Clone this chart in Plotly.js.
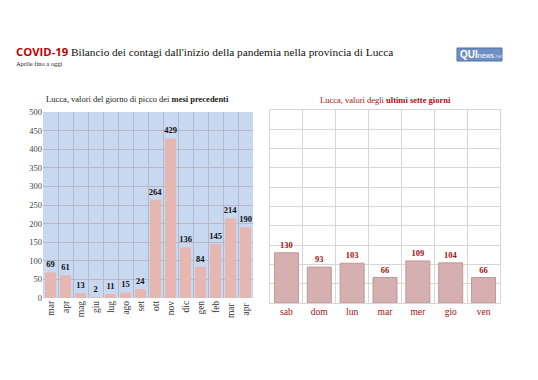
<!DOCTYPE html>
<html><head><meta charset="utf-8">
<script src="https://cdn.plot.ly/plotly-3.0.1.min.js"></script>
<style>html,body{margin:0;padding:0;background:#fff}#c{width:538px;height:380px}</style>
</head><body><div id="c"></div>
<script>
const months = ["mar","apr","mag","giu","lug","ago","set","ott","nov","dic","gen","feb","mar ","apr "];
const monthPeaks = [69,61,13,2,11,15,24,264,429,136,84,145,214,190];
const days = ["sab","dom","lun","mar","mer","gio","ven"];
const dayValues = [130,93,103,66,109,104,66];
const yTicks = [0,50,100,150,200,250,300,350,400,450,500];

const W=538,H=380;
const px = x=>x/W, py = y=>1-y/H;
const serif = "Liberation Serif, DejaVu Serif, serif";

const data = [
 {type:"bar", x:months, y:monthPeaks, xaxis:"x", yaxis:"y",
  marker:{color:"#e5b7b0"}, text:monthPeaks.map(String), textposition:"outside", constraintext:"none",
  textfont:{family:serif,size:8.5,color:"#111",weight:"bold"}, cliponaxis:false, hoverinfo:"none"},
 {type:"bar", x:days, y:dayValues, xaxis:"x2", yaxis:"y2",
  marker:{color:"#d6b0b0", line:{color:"#c29696", width:1}}, text:dayValues.map(String), textposition:"outside", constraintext:"none",
  textfont:{family:serif,size:8.5,color:"#a01010",weight:"bold"}, cliponaxis:false, hoverinfo:"none"}
];

const layout = {
 width:W, height:H, margin:{l:0,r:0,t:0,b:0}, showlegend:false,
 paper_bgcolor:"#fff", plot_bgcolor:"rgba(0,0,0,0)", bargap:0.27,
 font:{family:serif},
 xaxis:{domain:[px(43),px(253)], anchor:"y", type:"category", tickson:"boundaries", showgrid:true,
   gridcolor:"#b4b8c8", gridwidth:1, tickangle:-90, tickfont:{family:serif,size:9.5,color:"#333"},
   ticks:"", ticklen:0, showline:false, zeroline:false, fixedrange:true},
 yaxis:{domain:[py(298),py(112)], anchor:"x", range:[0,500], tickvals:yTicks, showgrid:true,
   gridcolor:"#b4b8c8", tickfont:{family:serif,size:8.5,color:"#444"}, ticks:"", zeroline:false, showline:false},
 xaxis2:{domain:[px(270),px(500)], anchor:"y2", type:"category", tickson:"boundaries", showgrid:true,
   gridcolor:"#d6d6d6", tickfont:{family:serif,size:9.5,color:"#a01010"}, ticks:"",
   showline:true, linecolor:"#d6d6d6", mirror:true, zeroline:false},
 yaxis2:{domain:[py(303),py(110)], anchor:"x2", range:[0,500], tickvals:yTicks, showgrid:true,
   gridcolor:"#d6d6d6", showticklabels:false, ticks:"", zeroline:false, showline:true, linecolor:"#d6d6d6", mirror:true},
 shapes:[
   {type:"rect", xref:"paper", yref:"paper", x0:px(43), x1:px(253), y0:py(298), y1:py(112),
    fillcolor:"#c9d8f1", line:{width:0}, layer:"below"},
   {type:"rect", xref:"paper", yref:"paper", x0:px(457), x1:px(502), y0:py(61), y1:py(48),
    fillcolor:"#6e8fc4", line:{color:"#4e6fa4",width:1}, layer:"above"}
 ],
 annotations:[
   {xref:"paper", yref:"paper", x:px(14), y:py(52), xanchor:"left", yanchor:"middle", showarrow:false,
    text:"<span style=\"font-family:'Open Sans',sans-serif;font-weight:bold;color:#c00000\">COVID-19</span> Bilancio dei contagi dall'inizio della pandemia nella provincia di Lucca",
    font:{family:serif,size:11.3,color:"#111"}},
   {xref:"paper", yref:"paper", x:px(14), y:py(64), xanchor:"left", yanchor:"middle", showarrow:false,
    text:"Aprile fino a oggi", font:{family:serif,size:6.5,color:"#222"}},
   {xref:"paper", yref:"paper", x:px(137), y:py(99), xanchor:"center", yanchor:"middle", showarrow:false,
    text:"Lucca, valori del giorno di picco dei <b>mesi precedenti</b>", font:{family:serif,size:8.5,color:"#222"}},
   {xref:"paper", yref:"paper", x:px(385), y:py(100), xanchor:"center", yanchor:"middle", showarrow:false,
    text:"Lucca, valori degli <b>ultimi sette giorni</b>", font:{family:serif,size:8.5,color:"#a01010"}},
   {xref:"paper", yref:"paper", x:px(458), y:py(54.5), xanchor:"left", yanchor:"middle", showarrow:false,
    text:"<b>QUI</b><span style=\"font-size:7px\">news</span><span style=\"font-size:5px;color:#cfe0ff\">.net</span>",
    font:{family:"Liberation Sans, Arial, sans-serif",size:10,color:"#fff"}}
 ]
};
Plotly.newPlot("c", data, layout, {staticPlot:true, displayModeBar:false});
</script></body></html>
